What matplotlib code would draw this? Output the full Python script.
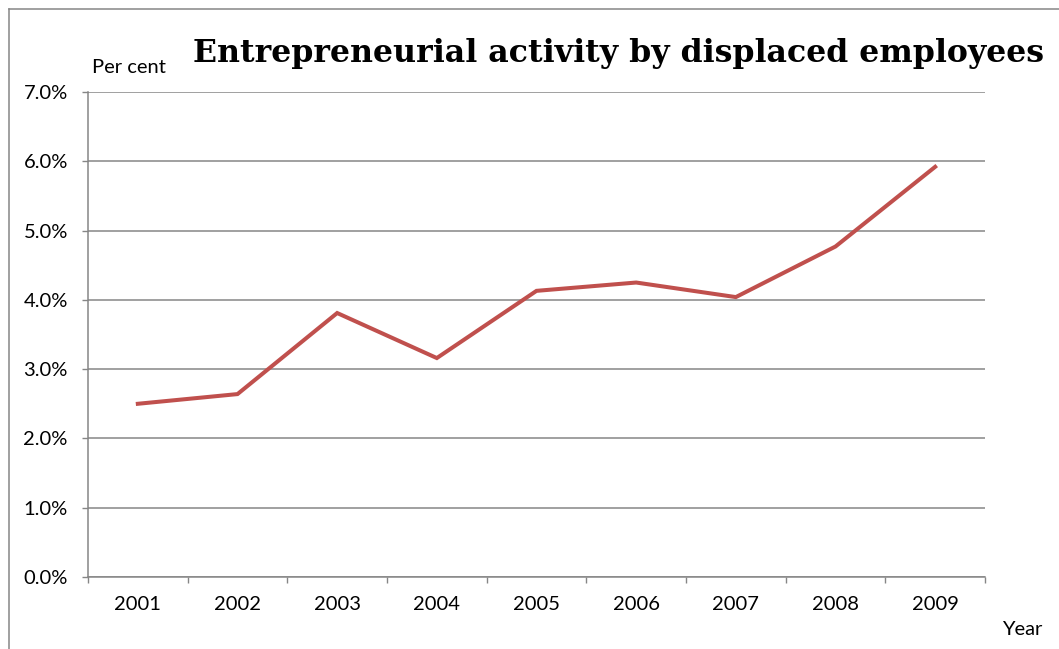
import matplotlib
matplotlib.use("Agg")
import matplotlib.pyplot as plt
from matplotlib.lines import Line2D
from matplotlib.ticker import FixedLocator, PercentFormatter

years = ["2001", "2002", "2003", "2004", "2005", "2006", "2007", "2008", "2009"]
share = [2.50, 2.64, 3.81, 3.16, 4.13, 4.25, 4.04, 4.77, 5.92]  # per cent
y_ticks = [0, 1, 2, 3, 4, 5, 6, 7]

GRID = "#868686"
LINE = "#C0504D"
SANS = ["Lato", "DejaVu Sans"]
FS = 14.5

fig = plt.figure(figsize=(10.59, 6.49), dpi=100)
ax = fig.add_axes([88 / 1059, 1 - 577 / 649, 897 / 1059, 485 / 649])

xs = list(range(len(years)))
ax.plot(xs, share, color=LINE, lw=2.9, solid_joinstyle="miter", zorder=3)

ax.set_xlim(-0.5, len(years) - 0.5)
ax.set_ylim(0, 7)

# category boundaries get tick marks, category centres get the labels
ax.xaxis.set_major_locator(FixedLocator([i - 0.5 for i in range(len(years) + 1)]))
ax.xaxis.set_minor_locator(FixedLocator(xs))
ax.set_xticklabels([], minor=False)
ax.set_xticklabels(years, minor=True, fontsize=FS, family=SANS)
ax.tick_params(axis="x", which="major", length=4.5, width=1, color=GRID, direction="out")
ax.tick_params(axis="x", which="minor", length=0, pad=14)

ax.set_yticks(y_ticks)
ax.yaxis.set_major_formatter(PercentFormatter(decimals=1))
ax.tick_params(axis="y", length=4.5, width=1, color=GRID, direction="out", pad=10)
for lab in ax.get_yticklabels():
    lab.set_fontsize(FS)
    lab.set_family(SANS)

ax.grid(axis="y", color=GRID, lw=1.1)
ax.set_axisbelow(True)
for side in ("top", "right"):
    ax.spines[side].set_visible(False)
for side in ("left", "bottom"):
    ax.spines[side].set_color(GRID)
    ax.spines[side].set_linewidth(1.1)

fig.text(193 / 1059, 1 - 62 / 649, "Entrepreneurial activity by displaced employees",
         fontsize=22.8, fontweight="bold", family=["DejaVu Serif"], ha="left", va="baseline")
fig.text(92 / 1059, 1 - 73 / 649, "Per cent", fontsize=FS, family=SANS,
         ha="left", va="baseline")
fig.text(1002 / 1059, 1 - 635 / 649, "Year", fontsize=FS, family=SANS,
         ha="left", va="baseline")

# chart frame (left and top edges)
fig.add_artist(Line2D([8.5 / 1059, 8.5 / 1059], [0, 1 - 8.5 / 649],
                      transform=fig.transFigure, color=GRID, lw=1.1))
fig.add_artist(Line2D([8.5 / 1059, 1], [1 - 8.5 / 649, 1 - 8.5 / 649],
                      transform=fig.transFigure, color=GRID, lw=1.1))

fig.savefig("out.png", dpi=100)
